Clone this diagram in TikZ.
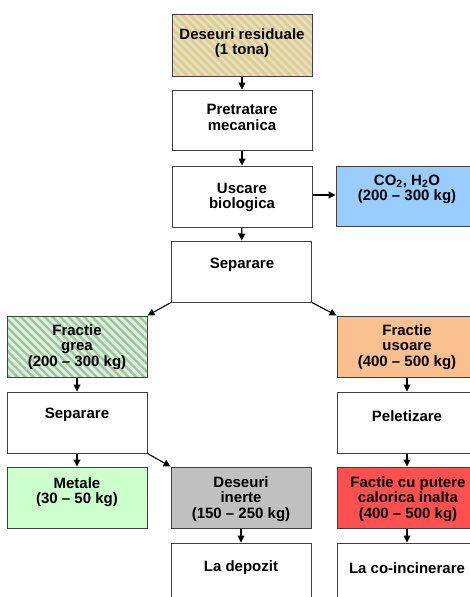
\documentclass[tikz,border=0pt]{standalone}
\usepackage{fontspec}
\setmainfont{Liberation Sans}
\usetikzlibrary{arrows.meta,patterns.meta}
\definecolor{peach}{HTML}{FAC090}
\definecolor{lgreen}{HTML}{CCFFCC}
\definecolor{stripegreen}{HTML}{C8F2C4}
\definecolor{stripegrey}{HTML}{B4B4B4}
\definecolor{lblue}{HTML}{99CCFF}
\definecolor{lgrey}{HTML}{C0C0C0}
\definecolor{lred}{HTML}{FF5050}
\definecolor{edge}{HTML}{404040}
\begin{document}
\begin{tikzpicture}[x=1pt,y=-1pt,
  box/.style={draw=edge,line width=1pt,rectangle,inner sep=0pt,minimum width=140pt,minimum height=61pt},
  txt/.style={align=center,inner sep=0pt,font=\fontsize{15}{15.5}\selectfont\bfseries},
  arr/.style={line width=1.1pt,-{Triangle[length=7pt,width=7pt]}},
  stripes/.style 2 args={preaction={fill=#1},pattern={Lines[angle=-45,distance=5.6pt,line width=2.4pt]},pattern color=#2}]
\useasboundingbox (0,0) rectangle (470,597);
\fill[white] (0,0) rectangle (470,597);
\clip (0,0) rectangle (470,597);
% boxes
\node[box,stripes={peach}{stripegreen},minimum height=62pt] (b1) at (242,45) {};
\node[box,fill=white,minimum height=60pt] (b2) at (242,120) {};
\node[box,fill=white] (b3) at (242,196.5) {};
\node[box,fill=lblue,minimum height=60pt] (co2) at (406,196) {};
\node[box,fill=white] (sep) at (241.5,271.5) {};
\node[box,stripes={lgreen}{stripegrey}] (grea) at (77,346.5) {};
\node[box,fill=peach] (usoare) at (407,346.5) {};
\node[box,fill=white] (sepl) at (77,422.5) {};
\node[box,fill=white] (pelet) at (407,422.5) {};
\node[box,fill=lgreen] (metale) at (77,497.5) {};
\node[box,fill=lgrey] (inerte) at (241,497.5) {};
\node[box,fill=lred] (putere) at (407,497.5) {};
\node[box,fill=white] (depozit) at (241,573.5) {};
\node[box,fill=white] (coinc) at (407,573.5) {};
% texts
\node[txt] (t1) at (242,43) {Deseuri residuale\\(1 tona)};
\node[txt] (t2) at (242,117.5) {Pretratare\\mecanica};
\node[txt] (t3) at (242,197.5) {Uscare\\biologica};
\node[txt] (tco2) at (407,189.5) {CO\textsubscript{2}, H\textsubscript{2}O\\(200 – 300 kg)};
\node[txt] (tsep) at (242,265) {Separare};
\node[txt] (tgrea) at (77,347) {Fractie\\grea\\(200 – 300 kg)};
\node[txt] (tusoare) at (407,347) {Fractie\\usoare\\(400 – 500 kg)};
\node[txt] (tsepl) at (77,415) {Separare};
\node[txt] (tpelet) at (407,416) {Peletizare};
\node[txt] (tmetale) at (77,492) {Metale\\(30 – 50 kg)};
\node[txt] (tinerte) at (241,499) {Deseuri\\inerte\\(150 – 250 kg)};
\node[txt] (tputere) at (408,499) {Factie cu putere\\calorica inalta\\(400 – 500 kg)};
\node[txt] (tdepozit) at (241,568) {La depozit};
\node[txt] (tcoinc) at (407,568) {La co-incinerare};
% connectors
\draw[arr] (b1) -- (b2);
\draw[arr] (b2) -- (b3);
\draw[arr] (b3) -- (sep);
\draw[arr] (b3.east |- 0,195) -- (co2.west |- 0,195);
\draw[arr] (sep.south west) -- (grea.north east);
\draw[arr] (sep.south east) -- (usoare.north west);
\draw[arr] (grea) -- (sepl);
\draw[arr] (usoare) -- (pelet);
\draw[arr] (sepl) -- (metale);
\draw[arr] (sepl.south east) -- (inerte.north west);
\draw[arr] (pelet) -- (putere);
\draw[arr] (inerte) -- (depozit);
\draw[arr] (putere) -- (coinc);
\end{tikzpicture}
\end{document}
